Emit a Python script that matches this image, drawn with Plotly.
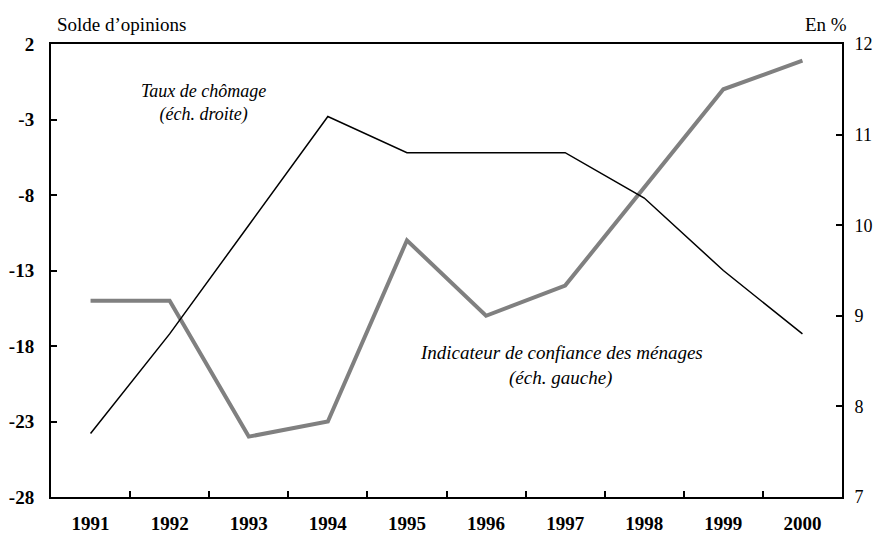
import plotly.graph_objects as go

years = ["1991", "1992", "1993", "1994", "1995", "1996", "1997", "1998", "1999", "2000"]
confiance = [-15, -15, -24, -23, -11, -16, -14, -7.5, -1, 0.9]
chomage = [7.7, 8.8, 10.0, 11.2, 10.8, 10.8, 10.8, 10.3, 9.5, 8.8]
left_ticks = [2, -3, -8, -13, -18, -23, -28]
left_labels = ["2", "-3", "-8", "-13", "-18", "-23", "-28"]
right_ticks = [7, 8, 9, 10, 11, 12]

FONT = "Liberation Serif"

fig = go.Figure()
fig.add_trace(go.Scatter(x=years, y=confiance, mode="lines",
                         line=dict(color="#808080", width=4), yaxis="y",
                         name="Indicateur de confiance des ménages"))
fig.add_trace(go.Scatter(x=years, y=chomage, mode="lines",
                         line=dict(color="black", width=1.5), yaxis="y2",
                         name="Taux de chômage"))

tickfont = dict(family=FONT, size=19, color="black", weight="bold")


def note(text, x, y, anchor="center", size=19):
    return dict(text=text, xref="paper", yref="paper", x=x, y=y,
                xanchor=anchor, yanchor="middle", showarrow=False,
                align="center", font=dict(family=FONT, size=size, color="black"))


fig.update_layout(
    width=877, height=536,
    margin=dict(l=51, r=35, t=44, b=39),
    paper_bgcolor="white", plot_bgcolor="white",
    showlegend=False,
    xaxis=dict(type="category", showline=True, linecolor="black", linewidth=2,
               mirror=True, ticks="inside", ticklen=6, tickwidth=1.5,
               tickcolor="black", tickson="boundaries", showgrid=False,
               tickfont=tickfont, range=[-0.5, 9.5], ticklabelstandoff=8,
               automargin=False),
    yaxis=dict(range=[-28, 2], tickvals=left_ticks, ticktext=left_labels,
               showline=True, linecolor="black", linewidth=2, ticks="inside",
               ticklen=6, tickwidth=1.5, tickcolor="black", showgrid=False,
               zeroline=False, tickfont=tickfont, ticklabelstandoff=11,
               automargin=False),
    yaxis2=dict(range=[7, 12], tickvals=right_ticks, overlaying="y",
                side="right", showline=True, linecolor="black", linewidth=2,
                ticks="inside", ticklen=6, tickwidth=1.5, tickcolor="black",
                showgrid=False, zeroline=False, ticklabelstandoff=7,
                automargin=False,
                tickfont=dict(family=FONT, size=18, color="black")),
    annotations=[
        note("Solde d’opinions", 0.005, 1.042, "left"),
        note("En %", 1.0088, 1.042, "right"),
        note("<i>Taux de chômage<br>(éch. droite)</i>", 0.193, 0.870, size=18),
        note("<i>Indicateur de confiance des ménages</i>", 0.646, 0.320),
        note("<i>(éch. gauche)</i>", 0.644, 0.263),
    ],
)

fig.write_html("out.html", config={"displayModeBar": False},
               post_script="document.body.style.margin='0';document.body.style.padding='0';")
